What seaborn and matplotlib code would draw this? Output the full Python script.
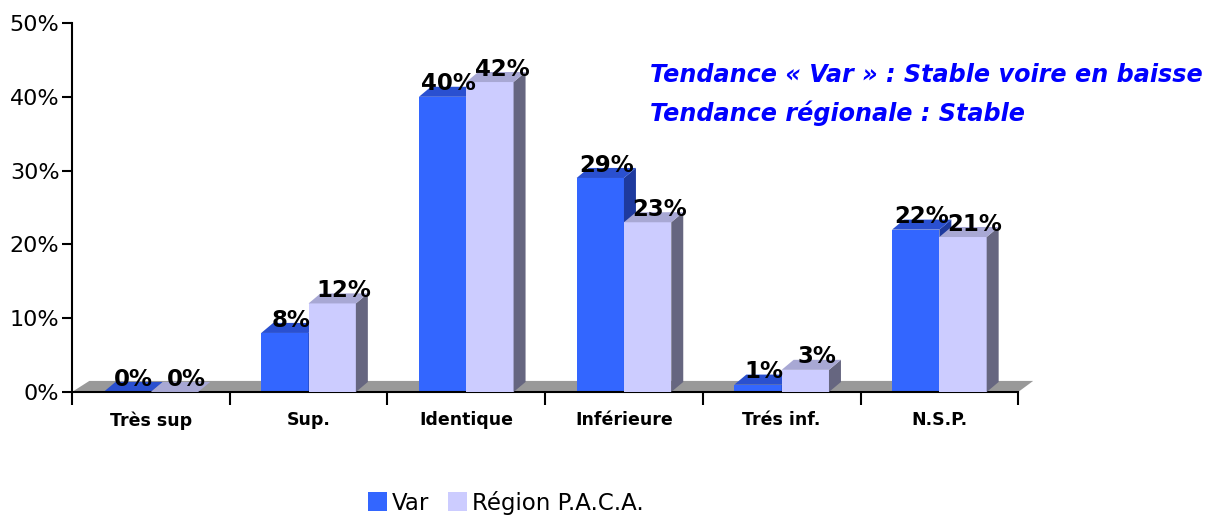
import pandas as pd
import matplotlib
matplotlib.use("Agg")
import matplotlib.pyplot as plt
from matplotlib.patches import Polygon, Patch
from matplotlib.ticker import FuncFormatter, FixedLocator
import seaborn as sns

# chart data
categories = ["Très sup", "Sup.", "Identique", "Inférieure", "Trés inf.", "N.S.P."]
var_values = [0, 8, 40, 29, 1, 22]
paca_values = [0, 12, 42, 23, 3, 21]
series_names = ["Var", "Région P.A.C.A."]
note_lines = ["Tendance « Var » : Stable voire en baisse",
              "Tendance régionale : Stable"]

front_colors = ["#3366FF", "#CCCCFF"]
top_colors = ["#2A50D0", "#A8A8D4"]
side_colors = ["#1E3A9E", "#666680"]


def generate_chart():
    df = pd.DataFrame({
        "categorie": categories * 2,
        "serie": [series_names[0]] * len(categories) + [series_names[1]] * len(categories),
        "valeur": var_values + paca_values,
    })

    sns.set_style("white")
    plt.rcParams["font.family"] = ["DejaVu Sans"]
    plt.rcParams["text.color"] = "black"
    plt.rcParams["xtick.color"] = "black"
    plt.rcParams["ytick.color"] = "black"

    fig = plt.figure(figsize=(12.1, 5.17), dpi=100)
    ax = fig.add_axes([0.0595, 0.2418, 0.782, 0.7137])

    sns.barplot(data=df, x="categorie", y="valeur", hue="serie",
                palette=front_colors, width=0.6, legend=False,
                saturation=1, linewidth=0, ax=ax, zorder=2)

    ax.set_xlim(-0.5, len(categories) - 0.5)
    ax.set_ylim(0, 50)

    # depth of the fake 3d effect, in data units
    dx, dy = 0.076, 1.36

    # gray floor
    x0, x1 = -0.5, len(categories) - 0.5
    floor = Polygon([(x0, 0), (x1, 0), (x1 + 0.095, 1.5), (x0 + 0.11, 1.5)],
                    closed=True, facecolor="#999999", edgecolor="none",
                    zorder=1, clip_on=False)
    ax.add_patch(floor)

    for i, container in enumerate(ax.containers):
        for bar in container:
            bar.set_zorder(2 + i)
            left = bar.get_x()
            right = left + bar.get_width()
            h = bar.get_height()
            top = Polygon([(left, h), (right, h), (right + dx, h + dy), (left + dx, h + dy)],
                          closed=True, facecolor=top_colors[i], edgecolor="none",
                          zorder=2 + i, clip_on=False)
            side = Polygon([(right, 0), (right + dx, dy), (right + dx, h + dy), (right, h)],
                           closed=True, facecolor=side_colors[i], edgecolor="none",
                           zorder=2 + i, clip_on=False)
            ax.add_patch(side)
            ax.add_patch(top)
            # labels of the second series sit a bit further right
            shift = dx / 2 if i == 0 else dx
            ax.annotate(f"{h:.0f}%", (left + bar.get_width() / 2 + shift, h),
                        xytext=(0, 1), textcoords="offset points",
                        ha="center", va="bottom", fontsize=16.5, fontweight="bold",
                        color="black", zorder=10)

    ax.yaxis.set_major_formatter(FuncFormatter(lambda v, p: f"{v:.0f}%"))
    ax.set_yticks(range(0, 51, 10))
    ax.tick_params(axis="y", which="major", direction="out", length=7, width=1.5,
                   labelsize=16, left=True, pad=2, colors="black")
    ax.xaxis.set_minor_locator(FixedLocator([k - 0.5 for k in range(len(categories) + 1)]))
    ax.tick_params(axis="x", which="minor", direction="out", length=9, width=1.5,
                   bottom=True, colors="black")
    ax.tick_params(axis="x", which="major", length=0, pad=14, labelsize=12.5,
                   labelcolor="black")
    for lab in ax.get_xticklabels():
        lab.set_fontweight("bold")

    sns.despine(ax=ax)
    for s in ["left", "bottom"]:
        ax.spines[s].set_linewidth(1.5)
        ax.spines[s].set_color("black")
    ax.set_xlabel("")
    ax.set_ylabel("")

    handles = [Patch(facecolor=c, edgecolor="none") for c in front_colors]
    fig.legend(handles, series_names, loc="center", bbox_to_anchor=(0.418, 0.028),
               ncol=2, frameon=False, fontsize=16.5, handlelength=0.85, handleheight=0.9,
               handletextpad=0.2, columnspacing=0.8, labelcolor="black")

    fig.text(0.537, 0.855, note_lines[0], color="#0000FF", fontsize=17.2,
             fontweight="bold", fontstyle="italic", va="center", ha="left")
    fig.text(0.537, 0.781, note_lines[1], color="#0000FF", fontsize=17.2,
             fontweight="bold", fontstyle="italic", va="center", ha="left")

    fig.savefig("out.png", dpi=100)


if __name__ == "__main__":
    generate_chart()
